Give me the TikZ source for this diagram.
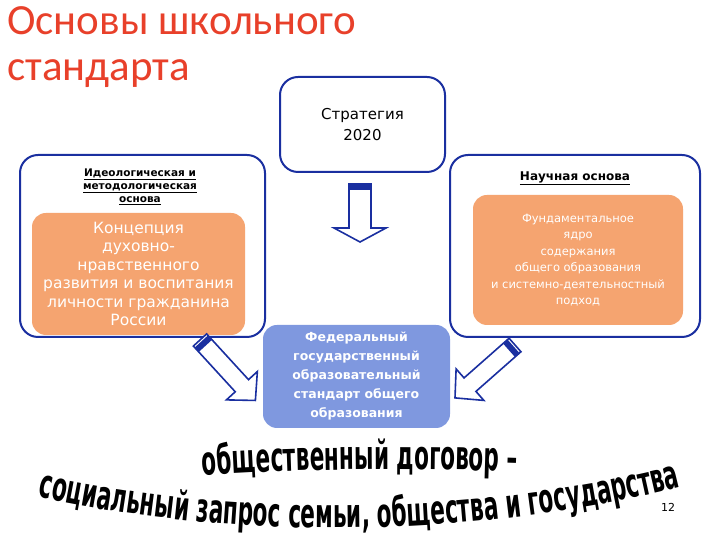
\documentclass[tikz,border=0pt]{standalone}
\usepackage{fontspec}
\setmainfont{DejaVu Sans}
\newfontfamily\titlefont{Carlito}
\newfontfamily\condfont[FakeStretch=0.54]{DejaVu Sans Bold}
\usetikzlibrary{decorations.text}
\definecolor{bord}{HTML}{1A2FA0}
\definecolor{org}{HTML}{F5A470}
\definecolor{bfill}{HTML}{7F98DF}
\definecolor{ttl}{HTML}{E8402A}
\tikzset{
 frame/.style={draw=bord,line width=2pt,rounded corners=18pt,fill=white},
 obox/.style={fill=org,rounded corners=14pt,text=white,align=center,inner sep=2pt},
 blk/.style={draw=bord,line width=1.6pt,fill=white,line join=miter},
}
\newcommand{\blockarrow}[5]{% x,y,angle,length,scale
 \begin{scope}[shift={(#1,#2)},rotate=#3]
  \draw[blk] (0,-#5*9) -- ({#4-#5*20},-#5*9) -- ({#4-#5*20},-#5*21) -- (#4,0) -- ({#4-#5*20},#5*21) -- ({#4-#5*20},#5*9) -- (0,#5*9) -- cycle;
  \fill[bord] (2,-#5*9) rectangle (8,#5*9);
 \end{scope}}
\begin{document}
\begin{tikzpicture}[x=1pt,y=1pt]
\useasboundingbox (0,0) rectangle (720,540);
\node[anchor=north west,text=ttl,font=\titlefont\fontsize{43}{46}\selectfont,align=left,inner sep=0] (title) at (7,534) {Основы школьного\\стандарта};
\node[frame,minimum width=165pt,minimum height=95pt,align=center,font=\fontsize{15}{21}\selectfont] (strat) at (362.5,415.5) {Стратегия\\2020};
\node[frame,minimum width=245pt,minimum height=182pt] (lbox) at (142.5,294) {};
\node[frame,minimum width=250pt,minimum height=182pt] (rbox) at (575,294) {};
\node[align=center,font=\bfseries\fontsize{10.5}{13}\selectfont] (ltitle) at (140,353) {\underline{Идеологическая и}\\\underline{методологическая}\\\underline{основа}};
\node[font=\bfseries\fontsize{12}{14}\selectfont] (rtitle) at (575,362) {\underline{Научная основа}};
\node[obox,minimum width=213pt,minimum height=122pt,font=\fontsize{15.5}{18.5}\selectfont] (lorg) at (138.5,266) {Концепция\\духовно-\\нравственного\\развития и воспитания\\личности гражданина\\России};
\node[obox,minimum width=210pt,minimum height=130pt,font=\fontsize{11.5}{16.5}\selectfont] (rorg) at (578,280) {Фундаментальное\\ядро\\содержания\\общего образования\\и системно-деятельностный\\подход};
\node[fill=bfill,rounded corners=14pt,minimum width=187pt,minimum height=103pt,text=white,align=center,font=\bfseries\fontsize{12.5}{19}\selectfont] (fgos) at (356.5,163.5) {Федеральный\\государственный\\образовательный\\стандарт общего\\образования};
% down arrow
\begin{scope}[shift={(360,356)},rotate=-90]
 \draw[blk] (0,-11) -- (44,-11) -- (44,-26) -- (58,0) -- (44,26) -- (44,11) -- (0,11) -- cycle;
 \fill[bord] (1,-11) rectangle (6,11);
\end{scope}
\blockarrow{200}{200}{-47.5}{82}{1}
\blockarrow{515}{195}{-138.6}{80}{1}
\node[font=\fontsize{11}{13}\selectfont] (num) at (668,33) {12};
\path[decorate,decoration={text along path,text align=center,text={|\condfont\fontsize{40}{42}\selectfont|общественный договор – }}] (195,64) .. controls (300,72) and (420,72) .. (525,68);
\path[decorate,decoration={text along path,text align=center,text={|\condfont\fontsize{40}{42}\selectfont|социальный запрос семьи, общества и государства }}] (34,44) .. controls (230,0) and (470,0) .. (684,54);
\end{tikzpicture}
\end{document}
